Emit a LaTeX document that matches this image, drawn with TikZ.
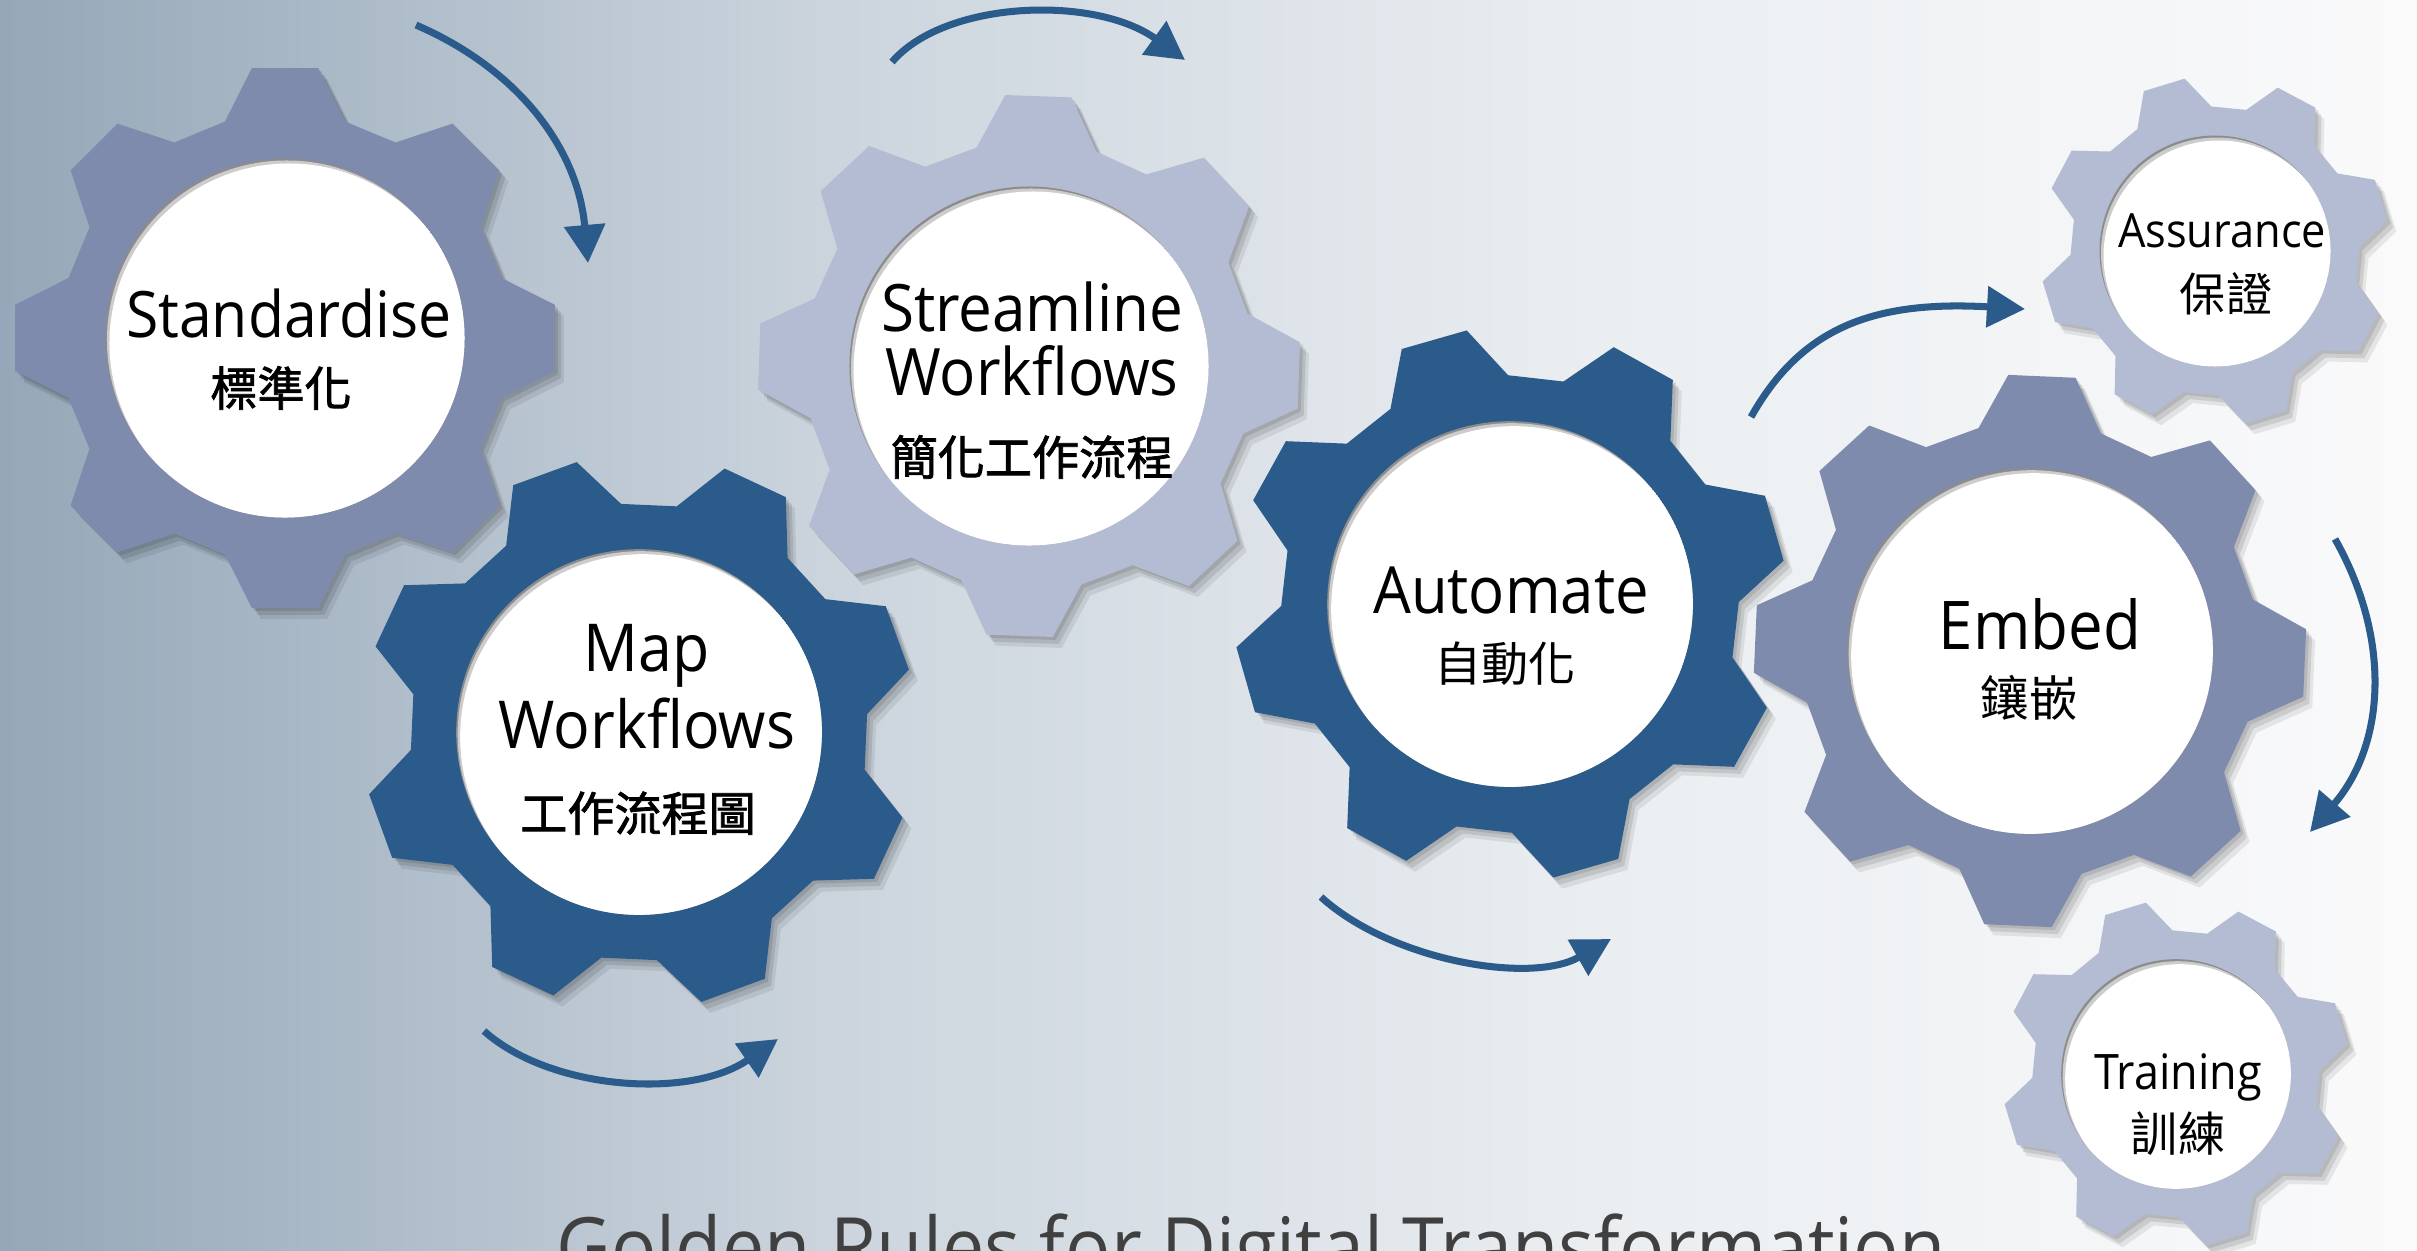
\documentclass[tikz,border=0pt]{standalone}
\usepackage{fontspec}
\setmainfont{Open Sans}[FakeStretch=0.92]
\newfontfamily\cjk{Noto Sans CJK TC}
\newfontfamily\cjkb{Noto Sans CJK TC}[FakeBold=1.6]
\usetikzlibrary{arrows.meta}
\definecolor{gdark}{HTML}{2A5B8A}
\definecolor{gmed}{HTML}{7F8BAD}
\definecolor{glight}{HTML}{B4BCD3}
\definecolor{bgA}{HTML}{95A7B8}
\definecolor{bgB}{HTML}{CBD4DD}
\definecolor{bgC}{HTML}{EAEEF1}
\definecolor{bgD}{HTML}{FAFAFB}
\definecolor{titlegray}{HTML}{404040}
\pgfdeclarehorizontalshading{bgshade}{100bp}{color(0bp)=(bgA); color(25bp)=(bgA); color(42bp)=(bgB); color(58bp)=(bgC); color(75bp)=(bgD); color(100bp)=(bgD)}
% gear outline: #1 tip radius, #2 rotation (deg, clockwise from up)
\newcommand{\gearpath}[2]{({#2-90-15.5}:{0.826*#1}) \foreach \k in {0,...,7} { -- ({#2-90+45*\k-15.5}:{0.826*#1}) -- ({#2-90+45*\k-7}:#1) -- ({#2-90+45*\k+7}:#1) -- ({#2-90+45*\k+15.5}:{0.826*#1}) } -- cycle}
% #1 x, #2 y, #3 R, #4 rot, #5 colour, #6 name
\newcommand{\drawgear}[6]{%
  \begin{scope}[shift={(#1,#2)}]
    \fill[black,opacity=0.10,shift={(3,3)}] \gearpath{#3}{#4};
    \fill[black,opacity=0.10,shift={(6,7)}] \gearpath{#3}{#4};
    \fill[black,opacity=0.08,shift={(9,11)}] \gearpath{#3}{#4};
    \fill[#5] \gearpath{#3}{#4};
    \begin{scope}
      \clip (0,0) circle ({0.66*#3});
      \fill[black!45] (0,0) circle ({0.66*#3});
      \fill[black!20] (1.5,2) circle ({0.66*#3});
      \fill[white] (4,5) circle ({0.66*#3});
    \end{scope}
    \coordinate (#6) at (0,0);
  \end{scope}}
\tikzset{
  lat/.style={anchor=base, inner sep=0pt, text=black},
  cj/.style={anchor=base, inner sep=0pt, text=black},
  arr/.style={draw=gdark, line width=2pt, -{Triangle[length=0.38cm,width=0.40cm]}},
}
\begin{document}
\begin{tikzpicture}[x=0.01cm,y=-0.01cm]
\useasboundingbox (0,0) rectangle (2417,1251);
\clip (0,0) rectangle (2417,1251);
\shade[shading=bgshade] (0,0) rectangle (2417,1251);

\drawgear{285}{338}{272}{0}{gmed}{g1}
\drawgear{639}{732}{277}{-20}{gdark}{g2}
\drawgear{1029}{366}{272}{2}{glight}{g3}
\drawgear{1510}{604}{277}{-16}{gdark}{g4}
\drawgear{2030}{651}{277}{2.5}{gmed}{g5}
\drawgear{2215}{251}{175}{-17}{glight}{g6}
\drawgear{2176}{1074}{174}{-17}{glight}{g7}

% labels
\node[lat, font=\fontsize{18.2}{20}\selectfont] (t1) at (289,337) {Standardise};
\node[cj, font=\cjkb\fontsize{13.4}{14}\selectfont] (c1) at (281,406) {標準化};

\node[lat, font=\fontsize{18.8}{20}\selectfont] (t2a) at (647,671) {Map};
\node[lat, font=\fontsize{18.8}{20}\selectfont] (t2b) at (647,748) {Workflows};
\node[cj, font=\cjkb\fontsize{13.4}{14}\selectfont] (c2) at (638,831) {工作流程圖};

\node[lat, font=\fontsize{18.6}{20}\selectfont] (t3a) at (1032,331) {Streamline};
\node[lat, font=\fontsize{18.6}{20}\selectfont] (t3b) at (1032,395) {Workflows};
\node[cj, font=\cjkb\fontsize{13.4}{14}\selectfont] (c3) at (1032,475) {簡化工作流程};

\node[lat, font=\fontsize{18.5}{20}\selectfont] (t4) at (1511,613) {Automate};
\node[cj, font=\cjk\fontsize{13.4}{14}\selectfont] (c4) at (1505,681) {自動化};

\node[lat, font=\fontsize{19.1}{21}\selectfont] (t5) at (2040,649) {Embed};
\node[cj, font=\cjk\fontsize{13.8}{14}\selectfont] (c5) at (2029,716) {鑲嵌};

\node[lat, font=\fontsize{13.4}{15}\selectfont] (t6) at (2222,247) {Assurance};
\node[cj, font=\cjk\fontsize{13.1}{14}\selectfont] (c6) at (2226,311) {保證};

\node[lat, font=\fontsize{13.9}{15}\selectfont] (t7) at (2178,1089) {Training};
\node[cj, font=\cjk\fontsize{13.4}{14}\selectfont] (c7) at (2178,1151) {訓練};

\node[anchor=base, inner sep=0pt, font=\fontsize{23.3}{24}\selectfont, text=titlegray] (title) at (1251,1276) {Golden Rules for Digital Transformation};

% arrows
\coordinate (a1s) at (416,25);   \coordinate (a1e) at (588,263);
\coordinate (a2s) at (892,62);   \coordinate (a2e) at (1185,60);
\coordinate (a3s) at (484,1031); \coordinate (a3e) at (778,1039);
\coordinate (a4s) at (1321,897); \coordinate (a4e) at (1611,939);
\coordinate (a5s) at (1751,417); \coordinate (a5e) at (2025,309);
\coordinate (a6s) at (2335,539); \coordinate (a6e) at (2310,832);
\draw[arr] (a1s) .. controls (520,70) and (578,150) .. (a1e);
\draw[arr] (a2s) .. controls (945,0) and (1095,-5) .. (a2e);
\draw[arr] (a3s) .. controls (550,1090) and (690,1100) .. (a3e);
\draw[arr] (a4s) .. controls (1390,960) and (1530,985) .. (a4e);
\draw[arr] (a5s) .. controls (1800,330) and (1870,300) .. (a5e);
\draw[arr] (a6s) .. controls (2392,640) and (2385,745) .. (a6e);
\end{tikzpicture}
\end{document}
